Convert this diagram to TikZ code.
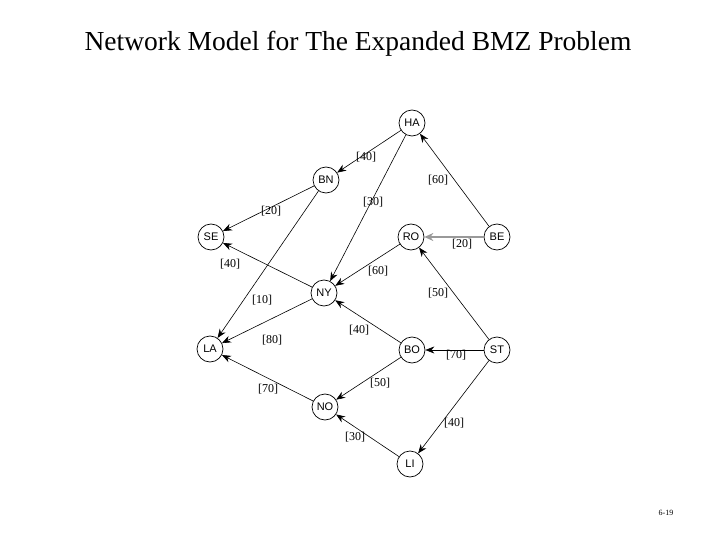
\documentclass[tikz,border=0pt]{standalone}
\usepackage{fontspec}
\usetikzlibrary{arrows.meta}
\setmainfont{Liberation Serif}
\newfontfamily\nodefont{Liberation Sans}
\begin{document}
\begin{tikzpicture}[x=1pt,y=-1pt,
  city/.style={circle,draw,line width=0.7pt,minimum size=26pt,inner sep=0pt,font=\nodefont\fontsize{11}{13}\selectfont},
  arc/.style={-{Stealth[length=9pt,width=7pt]},line width=0.6pt},
  lab/.style={font=\fontsize{12}{14}\selectfont,inner sep=1pt}]
\useasboundingbox (0,0) rectangle (720,540);
\node at (358,44) {\fontsize{27.5}{32}\selectfont Network Model for The Expanded BMZ Problem};
\node[font=\fontsize{8}{9}\selectfont] (pg) at (666,513) {6-19};
\node[city] (HA) at (412,123) {HA};
\node[city] (BN) at (326,180) {BN};
\node[city] (SE) at (211,237) {SE};
\node[city] (RO) at (411,237) {RO};
\node[city] (BE) at (497,237) {BE};
\node[city] (NY) at (324,293) {NY};
\node[city] (LA) at (210,349) {LA};
\node[city] (BO) at (412,350) {BO};
\node[city] (ST) at (497,350) {ST};
\node[city] (NO) at (325,407) {NO};
\node[city] (LI) at (410,464) {LI};
\draw[arc] (HA) -- (BN);
\draw[arc] (HA) -- (NY);
\draw[arc] (BN) -- (SE);
\draw[arc] (BN) -- (LA);
\draw[arc] (BE) -- (HA);
\draw[arc,line width=1.6pt,gray!80,-{Stealth[length=9pt,width=8pt]}] (BE) -- (RO);
\draw[arc] (RO) -- (NY);
\draw[arc] (NY) -- (SE);
\draw[arc] (NY) -- (LA);
\draw[arc] (ST) -- (RO);
\draw[arc] (BO) -- (NY);
\draw[arc] (ST) -- (BO);
\draw[arc] (BO) -- (NO);
\draw[arc] (NO) -- (LA);
\draw[arc] (ST) -- (LI);
\draw[arc] (LI) -- (NO);
\node[lab] (l1) at (366,157) {[40]};
\node[lab] (l2) at (438,180) {[60]};
\node[lab] (l3) at (373,202) {[30]};
\node[lab] (l4) at (271,211) {[20]};
\node[lab] (l5) at (462,244) {[20]};
\node[lab] (l6) at (230,264) {[40]};
\node[lab] (l7) at (378,271) {[60]};
\node[lab] (l8) at (438,293) {[50]};
\node[lab] (l9) at (262,300) {[10]};
\node[lab] (l10) at (359,330) {[40]};
\node[lab] (l11) at (272,340) {[80]};
\node[lab] (l12) at (456,355) {[70]};
\node[lab] (l13) at (380,383) {[50]};
\node[lab] (l14) at (268,389) {[70]};
\node[lab] (l15) at (454,423) {[40]};
\node[lab] (l16) at (355,437) {[30]};
\end{tikzpicture}
\end{document}
